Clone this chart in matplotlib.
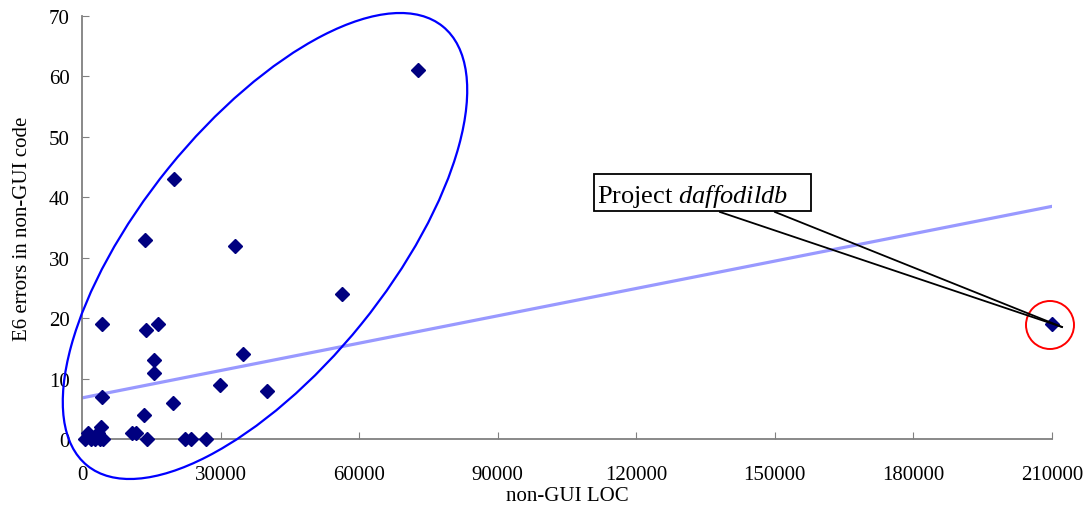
import numpy as np
import matplotlib
matplotlib.use("Agg")
import matplotlib.pyplot as plt
from matplotlib.patches import Ellipse, Circle, Rectangle
from matplotlib.lines import Line2D
from matplotlib.transforms import IdentityTransform

plt.rcParams['font.family'] = ['Liberation Serif', 'DejaVu Serif']
plt.rcParams['mathtext.fontset'] = 'custom'
plt.rcParams['mathtext.rm'] = 'Liberation Serif'
plt.rcParams['mathtext.it'] = 'Liberation Serif:italic'

# non-GUI LOC vs E6 errors, one point per project
loc = [72700, 20000, 13600, 33100, 56300, 4300, 13900, 16500, 34900, 15600,
       15600, 29900, 40100, 4300, 19700, 13400, 4100, 10800, 11700, 14100,
       22300, 23600, 26900, 600, 1200, 2000, 2800, 3500, 3800, 4600, 210000]
errors = [61, 43, 33, 32, 24, 19, 18, 19, 14, 13,
          11, 9, 8, 7, 6, 4, 2, 1, 1, 0,
          0, 0, 0, 0, 1, 0, 0, 1, 0, 0, 19]

# linear trendline (value at x=0 and x=210000)
trend_x = [0, 210000]
trend_y = [6.8, 38.5]

x_ticks = [0, 30000, 60000, 90000, 120000, 150000, 180000, 210000]
y_ticks = [0, 10, 20, 30, 40, 50, 60, 70]

W, H = 1090, 506
fig = plt.figure(figsize=(W / 100, H / 100), dpi=100)
ax = fig.add_axes([82 / W, 66 / H, 970 / W, 423 / H])

ax.plot(trend_x, trend_y, color='#9999ff', lw=2.3, zorder=2)
ax.plot(loc, errors, 'D', color='#000080', ms=7.2, clip_on=False, zorder=3)

ax.set_xlim(0, 210000)
ax.set_ylim(0, 70)
ax.set_xticks(x_ticks)
ax.set_yticks(y_ticks)
ax.tick_params(direction='in', length=5, color='#808080', labelsize=15)
ax.tick_params(axis='x', pad=19)
ax.tick_params(axis='y', pad=9)
for s in ['top', 'right']:
    ax.spines[s].set_visible(False)
for s in ['left', 'bottom']:
    ax.spines[s].set_color('#808080')
    ax.spines[s].set_linewidth(1.3)

ax.set_xlabel('non-GUI LOC', fontsize=15, labelpad=1)
ax.set_ylabel('E6 errors in non-GUI code', fontsize=15, labelpad=12)

# hand-drawn highlights in pixel space (y from bottom)
px = IdentityTransform()
fig.add_artist(Ellipse((265, H - 247), 565, 248, angle=51, fill=False,
                       ec='#0000ff', lw=1.6, transform=px))
fig.add_artist(Circle((1050, H - 326), 24, fill=False, ec='#ff0000',
                      lw=1.4, transform=px))

# callout
fig.add_artist(Line2D([720, 1062], [H - 213, H - 328], color='black', lw=1.3, transform=px))
fig.add_artist(Line2D([775, 1062], [H - 213, H - 328], color='black', lw=1.3, transform=px))
fig.add_artist(Rectangle((594, H - 212), 217, 37, fc='white', ec='black',
                         lw=1.3, transform=px))
fig.text(597, H - 203, r'Project $\mathit{daffodildb}$', fontsize=19,
         transform=px, va='baseline', ha='left')

fig.savefig('out.png', dpi=100)
